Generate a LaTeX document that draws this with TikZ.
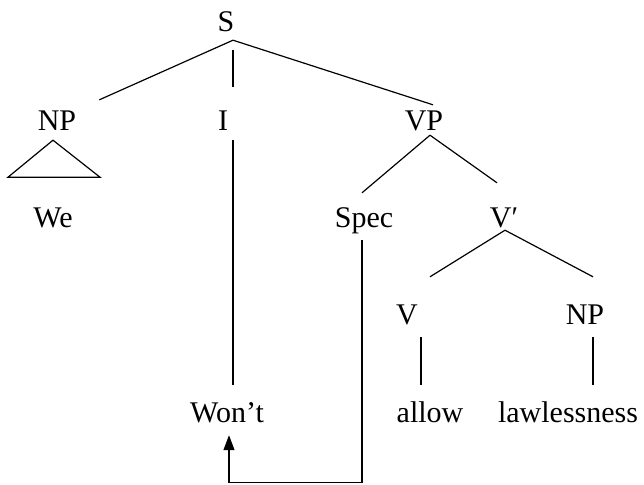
\documentclass[tikz,border=0pt]{standalone}
\usepackage{fontspec}
\setmainfont{Liberation Serif}
\usetikzlibrary{arrows.meta,calc}
\tikzset{
  cat/.style   ={inner sep=0pt,text height=20pt,text depth=0pt,font=\fontsize{30}{36}\selectfont},
  branch/.style={line width=1.2pt},
  movearrow/.style={line width=1.2pt,-{Triangle[length=15pt,width=11pt]}},
}
\begin{document}
\begin{tikzpicture}[x=1pt,y=-1pt]
  \useasboundingbox (0,0) rectangle (644,484);
  % categories
  \node[cat] (S)    at (226,22)  {S};
  \node[cat] (NP)   at (57,120)  {NP};
  \node[cat] (I)    at (223,120) {I};
  \node[cat] (VP)   at (424,120) {VP};
  \node[cat] (We)   at (53,217)  {We};
  \node[cat] (Spec) at (364,217) {Spec};
  \node[cat] (Vbar) at (504,217) {V′};
  \node[cat] (V)    at (407,314) {V};
  \node[cat] (NPo)  at (585,314) {NP};
  \node[cat] (Wont) at (227,412) {Won’t};
  \node[cat] (allow) at (430,412) {allow};
  \node[cat] (lawl) at (568,412) {lawlessness};
  % branches
  \coordinate (Sfoot) at ($(S.south)+(7,8)$);
  \draw[branch] (Sfoot) -- ($(NP.north east)+(23,-10)$);
  \draw[branch] (Sfoot) -- ($(VP.north)+(9,-5)$);
  \draw[branch] ($(S.south)+(7,18)$) -- ($(I.north)+(10,-23)$);
  \draw[branch] ($(I.south)+(10,10)$) -- ($(Wont.north)+(6,-17)$);
  \draw[branch] ($(NP.south)+(-4,10)$) -- ++(-45,37) -- ++(92,0) -- cycle;
  \coordinate (VPfoot) at ($(VP.south)+(6,5)$);
  \draw[branch] (VPfoot) -- ($(Spec.north)+(-2,-14)$);
  \draw[branch] (VPfoot) -- ($(Vbar.north)+(-7,-24)$);
  \coordinate (Vbarfoot) at ($(Vbar.south)+(1,3)$);
  \draw[branch] (Vbarfoot) -- ($(V.north)+(23,-27)$);
  \draw[branch] (Vbarfoot) -- ($(NPo.north)+(8,-27)$);
  \draw[branch] ($(V.south)+(14,13)$) -- ($(allow.north)+(-9,-17)$);
  \draw[branch] ($(NPo.south)+(8,13)$) -- ($(lawl.north)+(25,-17)$);
  % movement
  \draw[movearrow] ($(Spec.south)+(-2,13)$) -- ++(0,242) -| ($(Wont.south)+(2,13)$);
\end{tikzpicture}
\end{document}
